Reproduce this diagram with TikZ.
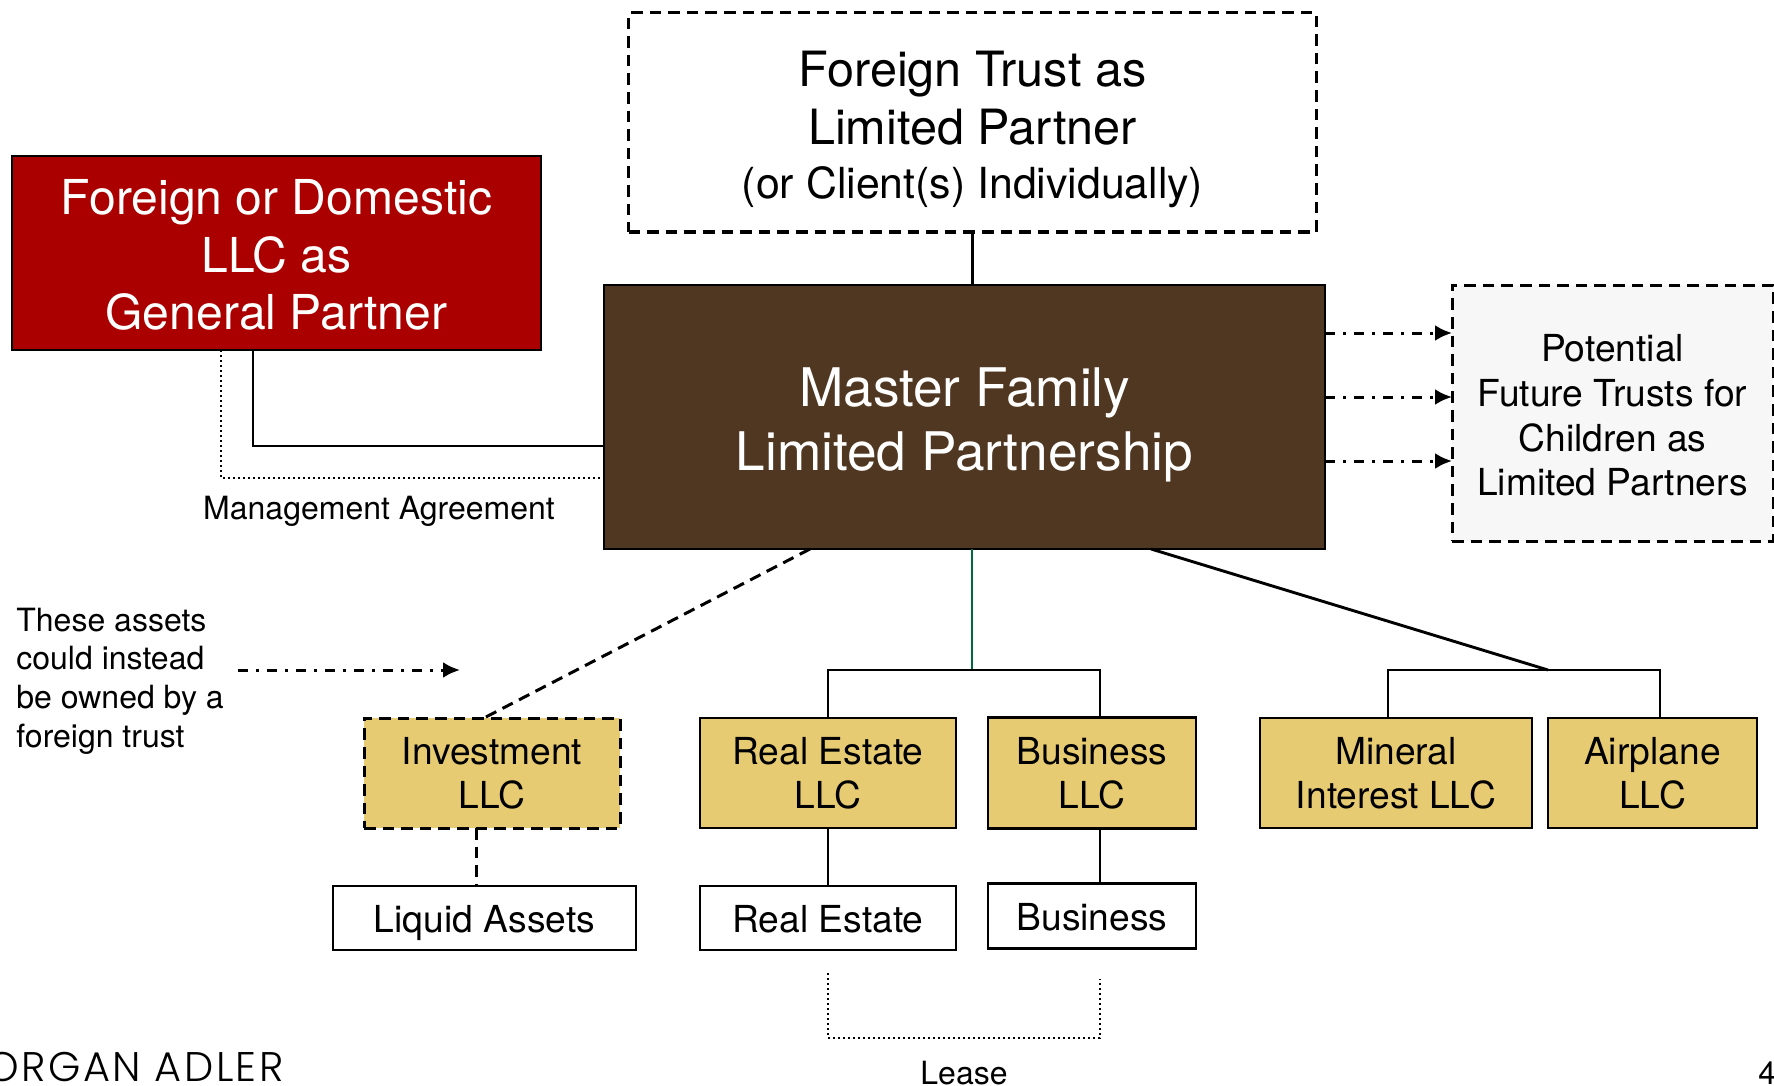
\documentclass[tikz,border=0pt]{standalone}
\usepackage{fontspec}
\setmainfont{TeX Gyre Heros}
\newfontfamily\logofont{Poppins}[UprightFont=* Light,LetterSpace=6]
\usepackage{xcolor}
\usepackage{tikz}
\usetikzlibrary{positioning}
\usetikzlibrary{arrows.meta}
\definecolor{redbox}{HTML}{AB0000}
\definecolor{brownbox}{HTML}{503721}
\definecolor{goldbox}{HTML}{E6CB73}
\definecolor{greyfill}{HTML}{F7F7F7}
\definecolor{greenline}{HTML}{00693C}
\newcommand{\dropline}[1]{\mbox{}\\[#1]}
\tikzset{
	boxed/.style={draw=black,line width=1.45pt,inner sep=0pt,outer sep=0pt,align=center},
	sized/.style 2 args={minimum width=#1,minimum height=#2},
	bigtext/.style={font=\fontsize{24.3}{28.8}\selectfont},
	midtext/.style={font=\fontsize{18.6}{22.2}\selectfont},
	smalltext/.style={inner sep=0pt,font=\fontsize{16}{19.3}\selectfont},
	goldllc/.style={boxed,midtext,fill=goldbox,sized={128pt}{55pt}},
	asset/.style={boxed,midtext,fill=white,text height=14pt,text depth=0pt},
	conn/.style={line width=1.45pt},
	dashconn/.style={line width=1.5pt,dash pattern=on 5.8pt off 3.5pt},
	dashdot/.style={line width=1.5pt,dash pattern=on 5pt off 4pt on 1.5pt off 4pt,-{Latex[length=8.5pt,width=8pt]}},
	dotconn/.style={line width=1pt,dash pattern=on 1pt off 1.5pt}
}
\begin{document}
\begin{tikzpicture}[x=0.5pt,y=-0.5pt]
		\useasboundingbox (0,0) rectangle (1774,1086);
		\node [boxed,dashconn,bigtext,fill=white,sized={344pt}{109.5pt}] (trust) at (972.5,122.5) {\dropline{-4pt}Foreign Trust as\\Limited Partner\\[-1.8pt]{\fontsize{21.4}{26}\selectfont (or Client(s) Individually)}};
		\node [boxed,text=white,fill=redbox,sized={264.5pt}{97pt},font=\fontsize{24.05}{28.8}\selectfont] (genpartner) at (276.5,253) {\dropline{-9.3pt}Foreign or Domestic\\LLC as\\General Partner};
		\node [boxed,text=white,fill=brownbox,sized={360.5pt}{132pt},font=\fontsize{26.6}{32}\selectfont] (master) at (964.5,417) {\dropline{-5.2pt}Master Family\\Limited Partnership};
		\node [boxed,dashconn,fill=greyfill,sized={160.5pt}{128pt},font=\fontsize{18.6}{22.4}\selectfont] (future) at (1612.5,413) {\dropline{-6.5pt}Potential\\Future Trusts for\\Children as\\Limited Partners};
		\node [smalltext] (mgmt) at (379,511.5) {Management Agreement};
		\node [smalltext,align=left,anchor=west] (note) at (16,681) {These assets\\could instead\\be owned by a\\foreign trust};
		\node [goldllc,dashconn,draw=black,sized={128pt}{55pt}] (invest) at (492,773) {Investment\\LLC};
		\node [goldllc,right=40pt of invest] (realllc) {Real Estate\\LLC};
		\node [goldllc,sized={104pt}{55.5pt},right=16pt of realllc] (busllc) {Business\\LLC};
		\node [goldllc,sized={136pt}{55pt},right=32pt of busllc] (mineral) {Mineral\\Interest LLC};
		\node [goldllc,sized={104.5pt}{55pt},right=8pt of mineral] (airplane) {Airplane\\LLC};
		\node [asset,sized={151.5pt}{32pt},below=29pt of invest,xshift=-3.75pt] (liquid) {Liquid Assets};
		\node [asset,sized={128pt}{32pt},below=29pt of realllc] (realasset) {Real Estate};
		\node [asset,sized={104pt}{32.5pt},below=27.5pt of busllc] (busasset) {Business};
		\node [smalltext] (lease) at (964,1073) {Lease};
		\node [inner sep=0pt,anchor=base east,font=\logofont\fontsize{20.7}{24}\selectfont] (logo) at (284,1081) {ORGAN ADLER};
		\node [inner sep=0pt,anchor=base west,font=\fontsize{16}{19}\selectfont] (pagenum) at (1758,1084) {4};
		\coordinate (redtap) at (253,446);
		\coordinate (mgmttap) at (221,478);
		\coordinate (mgmtend) at (602,478);
		\coordinate (investtop) at (484,718);
		\coordinate (investfrom) at (810,549);
		\coordinate (liquidtap) at (476,885);
		\coordinate (greenend) at (972,670);
		\coordinate (busdrop) at (1100,670);
		\coordinate (minedrop) at (1388,670);
		\coordinate (airdrop) at (1660,670);
		\coordinate (minefrom) at (1151,549);
		\coordinate (minejoin) at (1548,670);
		\coordinate (noteend) at (460,670);
		\coordinate (leaseleft) at (828,973);
		\coordinate (leaseright) at (1100,979);
		\coordinate (leasebottom) at (828,1038);
		\path[draw,conn] (trust.south) -- (trust.south |- master.north);
		\path[draw,conn] (redtap |- genpartner.south) |- (master.west |- redtap);
		\path[draw,dotconn] (mgmttap |- genpartner.south) |- (mgmtend);
		\path[draw,dashdot] (master.east |- 0,333) -- (future.west |- 0,333);
		\path[draw,dashdot] (master.east |- 0,397) -- (future.west |- 0,397);
		\path[draw,dashdot] (master.east |- 0,461) -- (future.west |- 0,461);
		\path[draw,dashdot] ([shift={(7pt,5.5pt)}]note.east) -- (noteend);
		\path[draw,dashconn] (investfrom |- master.south) -- (investtop |- invest.north);
		\path[draw,dashconn] (liquidtap |- invest.south) -- (liquidtap |- liquid.north);
		\path[draw,conn,greenline] (greenend |- master.south) -- (greenend);
		\path[draw,conn] (realllc.north) |- (busdrop) -- (busdrop |- busllc.north);
		\path[draw,conn] (realllc.south) -- (realasset.north);
		\path[draw,conn] (busdrop |- busllc.south) -- (busdrop |- busasset.north);
		\path[draw,conn] (minefrom |- master.south) -- (minejoin);
		\path[draw,conn] (minedrop |- mineral.north) |- (airdrop) -- (airdrop |- airplane.north);
		\path[draw,dotconn] (leaseleft) |- (leasebottom -| leaseright) -- (leaseright);
	\end{tikzpicture}
\end{document}
